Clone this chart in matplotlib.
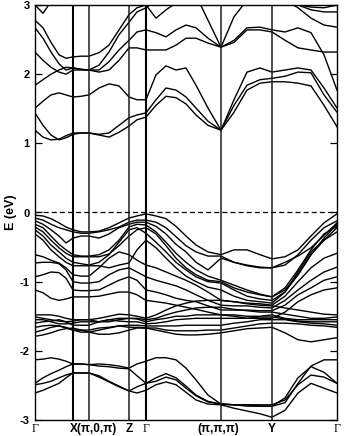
import matplotlib
matplotlib.use('Agg')
import matplotlib.pyplot as plt

plt.rcParams['axes.unicode_minus'] = False

# path distance along the k-path and the high symmetry points
k = [0, 8, 16, 24, 31, 38, 46, 54, 64, 74, 84, 94, 102, 111, 121, 131, 141,
     151, 161, 173, 186, 199, 212, 225, 237, 250, 263, 276, 289, 302]
kpts = [0, 38, 54, 94, 111, 186, 237, 302]

# conduction bands (eV)
cb1 = [1.19, 1.09, 1.05, 1.06, 1.11, 1.15, 1.15, 1.15, 1.12, 1.09, 1.16, 1.25, 1.34, 1.38, 1.55,
       1.68, 1.66, 1.57, 1.41, 1.26, 1.19, 1.45, 1.77, 1.87, 1.89, 1.89, 1.87, 1.83, 1.55, 1.24]
cb2 = [1.44, 1.26, 1.12, 1.05, 1.08, 1.13, 1.15, 1.15, 1.13, 1.15, 1.26, 1.37, 1.41, 1.44, 1.63,
       1.80, 1.77, 1.67, 1.51, 1.32, 1.19, 1.55, 1.84, 1.92, 1.94, 1.97, 2.03, 2.02, 1.70, 1.45]
cb3 = [1.51, 1.61, 1.70, 1.73, 1.70, 1.67, 1.68, 1.70, 1.80, 1.86, 1.83, 1.67, 1.63, 1.63, 1.99,
       2.12, 2.06, 2.09, 1.84, 1.51, 1.19, 1.63, 2.03, 2.09, 2.03, 2.06, 2.09, 2.06, 1.80, 1.51]
cb4 = [1.84, 1.92, 2.00, 2.06, 2.10, 2.09, 2.07, 2.06, 2.03, 2.06, 2.20, 2.38, 2.38, 2.35, 2.35,
       2.35, 2.42, 2.52, 2.52, 2.45, 2.39, 2.49, 2.67, 2.68, 2.64, 2.61, 2.67, 2.60, 2.28, 1.77]
cb5 = [2.32, 2.20, 2.10, 2.03, 2.00, 2.06, 2.06, 2.06, 2.06, 2.18, 2.35, 2.49, 2.61, 2.64, 2.60,
       2.54, 2.64, 2.71, 2.67, 2.52, 2.39, 2.46, 2.64, 2.64, 2.61, 2.49, 2.38, 2.35, 2.32, 2.32]
cb6 = [2.78, 2.67, 2.46, 2.28, 2.23, 2.25, 2.26, 2.26, 2.31, 2.42, 2.64, 2.86, 2.96, 3.00, 2.81,
       2.93, 3.03, 3.07, 3.14, 2.78, 2.39, 2.83, 3.07, 3.14, 3.14, 3.07, 2.96, 2.81, 2.71, 2.68]
cb7 = [2.67, 2.52, 2.32, 2.15, 2.06, 2.09, 2.07, 2.06, 2.13, 2.32, 2.57, 2.75, 2.90, 2.96, 3.07,
       3.19, 3.22, 3.22, 3.22, 3.22, 3.22, 3.22, 3.22, 3.22, 3.14, 3.07, 3.00, 2.93, 2.90, 2.90]
cb8 = [3.00, 2.88, 3.05, 3.10, 3.15, 3.18, 3.18, 3.18, 3.18, 3.15, 3.12, 3.10, 3.08, 3.05, 3.10,
       3.15, 3.20, 3.20, 3.20, 3.20, 3.20, 3.20, 3.20, 3.15, 3.10, 3.05, 3.00, 2.97, 2.96, 3.00]

# upper valence bands
vb1 = [-0.04, -0.05, -0.09, -0.15, -0.21, -0.25, -0.28, -0.28, -0.27, -0.22, -0.15, -0.08, -0.05, -0.02, -0.05,
       -0.09, -0.20, -0.34, -0.47, -0.57, -0.61, -0.54, -0.54, -0.61, -0.67, -0.64, -0.54, -0.34, -0.15, -0.02]
vb2 = [-0.08, -0.11, -0.17, -0.22, -0.25, -0.28, -0.30, -0.30, -0.28, -0.25, -0.21, -0.14, -0.11, -0.11, -0.14,
       -0.22, -0.35, -0.48, -0.57, -0.63, -0.63, -0.72, -0.76, -0.79, -0.80, -0.76, -0.61, -0.40, -0.22, -0.12]
vb3 = [-0.12, -0.17, -0.25, -0.34, -0.44, -0.37, -0.34, -0.34, -0.37, -0.31, -0.22, -0.17, -0.14, -0.14, -0.20,
       -0.31, -0.46, -0.57, -0.72, -0.83, -0.66, -0.72, -0.77, -0.80, -0.80, -0.72, -0.63, -0.51, -0.33, -0.15]
vb4 = [-0.17, -0.22, -0.34, -0.46, -0.54, -0.61, -0.63, -0.63, -0.61, -0.54, -0.40, -0.21, -0.17, -0.18, -0.28,
       -0.43, -0.59, -0.72, -0.83, -0.92, -0.98, -1.05, -1.12, -1.18, -1.22, -1.12, -0.90, -0.61, -0.37, -0.17]
vb5 = [-0.21, -0.28, -0.40, -0.51, -0.59, -0.64, -0.64, -0.64, -0.64, -0.60, -0.48, -0.34, -0.25, -0.22, -0.31,
       -0.48, -0.66, -0.80, -0.90, -0.98, -1.00, -1.09, -1.15, -1.19, -1.22, -1.09, -0.83, -0.54, -0.31, -0.20]
vb6 = [-0.25, -0.34, -0.47, -0.57, -0.66, -0.72, -0.74, -0.76, -0.72, -0.61, -0.43, -0.25, -0.22, -0.30, -0.43,
       -0.57, -0.72, -0.83, -0.93, -1.00, -1.02, -1.12, -1.21, -1.25, -1.27, -1.15, -0.90, -0.61, -0.40, -0.22]
vb7 = [-0.31, -0.40, -0.54, -0.64, -0.72, -0.77, -0.77, -0.77, -0.77, -0.80, -0.76, -0.73, -0.54, -0.40, -0.51,
       -0.66, -0.80, -0.92, -1.00, -1.08, -1.12, -1.21, -1.27, -1.29, -1.31, -1.15, -0.86, -0.57, -0.40, -0.28]
vb8 = [-0.61, -0.64, -0.69, -0.73, -0.80, -0.90, -0.92, -0.92, -0.80, -0.66, -0.57, -0.61, -0.69, -0.76, -0.80,
       -0.86, -0.92, -0.98, -1.05, -1.15, -1.27, -1.29, -1.31, -1.32, -1.34, -1.21, -1.00, -0.80, -0.66, -0.59]
vb9 = [-0.73, -0.72, -0.72, -0.74, -0.83, -1.00, -1.02, -1.02, -1.00, -0.90, -0.83, -0.80, -0.86, -0.93, -0.98,
       -1.02, -1.06, -1.12, -1.19, -1.27, -1.34, -1.35, -1.35, -1.37, -1.38, -1.27, -1.12, -0.98, -0.86, -0.79]
vb10 = [-0.93, -0.90, -0.86, -0.87, -0.95, -1.12, -1.13, -1.13, -1.12, -1.05, -0.98, -0.93, -0.98, -1.12, -1.15,
        -1.19, -1.24, -1.27, -1.29, -1.35, -1.41, -1.41, -1.41, -1.42, -1.42, -1.34, -1.19, -1.09, -0.98, -0.93]
vb11 = [-1.12, -1.16, -1.24, -1.27, -1.25, -1.22, -1.22, -1.22, -1.21, -1.18, -1.15, -1.15, -1.19, -1.27, -1.29,
        -1.31, -1.34, -1.37, -1.40, -1.44, -1.48, -1.50, -1.53, -1.53, -1.53, -1.44, -1.29, -1.19, -1.12, -1.09]

# flat bands around -1.5 eV
fb1 = [-1.48, -1.48, -1.48, -1.50, -1.53, -1.55, -1.55, -1.55, -1.53, -1.50, -1.47, -1.48, -1.50, -1.53, -1.48,
       -1.41, -1.35, -1.31, -1.28, -1.27, -1.27, -1.29, -1.32, -1.34, -1.35, -1.38, -1.41, -1.44, -1.47, -1.48]
fb2 = [-1.51, -1.53, -1.55, -1.57, -1.58, -1.57, -1.55, -1.55, -1.58, -1.58, -1.55, -1.53, -1.53, -1.55, -1.53,
       -1.48, -1.44, -1.41, -1.38, -1.37, -1.37, -1.40, -1.42, -1.44, -1.44, -1.47, -1.50, -1.53, -1.53, -1.51]
fb3 = [-1.55, -1.55, -1.58, -1.61, -1.61, -1.60, -1.58, -1.58, -1.58, -1.55, -1.53, -1.53, -1.54, -1.58, -1.55,
       -1.53, -1.50, -1.50, -1.48, -1.48, -1.48, -1.48, -1.50, -1.50, -1.48, -1.53, -1.55, -1.55, -1.55, -1.55]
fb4 = [-1.60, -1.58, -1.57, -1.55, -1.58, -1.63, -1.63, -1.63, -1.58, -1.55, -1.57, -1.58, -1.58, -1.61, -1.60,
       -1.58, -1.55, -1.54, -1.53, -1.53, -1.53, -1.53, -1.53, -1.51, -1.51, -1.54, -1.57, -1.58, -1.58, -1.58]
fb5 = [-1.66, -1.64, -1.63, -1.64, -1.67, -1.70, -1.70, -1.70, -1.67, -1.66, -1.64, -1.63, -1.63, -1.64, -1.64,
       -1.64, -1.64, -1.63, -1.63, -1.63, -1.63, -1.60, -1.58, -1.55, -1.55, -1.55, -1.58, -1.60, -1.61, -1.63]
fb6 = [-1.73, -1.70, -1.66, -1.64, -1.66, -1.70, -1.73, -1.73, -1.70, -1.67, -1.64, -1.66, -1.66, -1.67, -1.67,
       -1.70, -1.71, -1.71, -1.71, -1.70, -1.70, -1.67, -1.64, -1.61, -1.60, -1.60, -1.61, -1.63, -1.64, -1.66]
fb7 = [-1.79, -1.77, -1.74, -1.70, -1.68, -1.67, -1.70, -1.73, -1.76, -1.76, -1.74, -1.70, -1.67, -1.67, -1.70,
       -1.73, -1.76, -1.77, -1.77, -1.76, -1.74, -1.71, -1.68, -1.67, -1.66, -1.74, -1.84, -1.87, -1.84, -1.81]

# lower valence bands
bb1 = [-2.13, -2.12, -2.10, -2.12, -2.15, -2.19, -2.19, -2.20, -2.19, -2.20, -2.22, -2.25, -2.19, -2.15, -2.10,
       -2.10, -2.13, -2.25, -2.42, -2.64, -2.77, -2.78, -2.80, -2.80, -2.80, -2.75, -2.47, -2.22, -2.13, -2.13]
bb2 = [-2.47, -2.39, -2.33, -2.28, -2.23, -2.19, -2.19, -2.20, -2.22, -2.23, -2.25, -2.26, -2.36, -2.47, -2.44,
       -2.38, -2.42, -2.54, -2.65, -2.74, -2.77, -2.78, -2.78, -2.80, -2.80, -2.68, -2.39, -2.23, -2.31, -2.47]
bb3 = [-2.49, -2.47, -2.44, -2.39, -2.35, -2.32, -2.32, -2.32, -2.36, -2.44, -2.51, -2.58, -2.52, -2.47, -2.39,
       -2.33, -2.39, -2.51, -2.64, -2.73, -2.77, -2.78, -2.78, -2.78, -2.78, -2.71, -2.49, -2.35, -2.38, -2.47]
bb4 = [-2.61, -2.57, -2.52, -2.47, -2.39, -2.32, -2.32, -2.32, -2.38, -2.45, -2.52, -2.58, -2.61, -2.57, -2.49,
       -2.45, -2.49, -2.60, -2.71, -2.77, -2.78, -2.83, -2.87, -2.91, -2.96, -2.86, -2.61, -2.47, -2.54, -2.61]

bands = [cb1, cb2, cb3, cb4, cb5, cb6, cb7, cb8,
         vb1, vb2, vb3, vb4, vb5, vb6, vb7, vb8, vb9, vb10, vb11,
         fb1, fb2, fb3, fb4, fb5, fb6, fb7,
         bb1, bb2, bb3, bb4]

fig = plt.figure(figsize=(3.54, 4.36), dpi=100)
ax = fig.add_axes([35/354, 16/436, 302/354, 415/436])

for b in bands:
    ax.plot(k, b, color='k', lw=1.0, solid_joinstyle='round')

# X and Gamma drawn heavier, the rest a bit lighter as in the original
for kp in kpts[1:-1]:
    if kp in (38, 111):
        ax.axvline(kp, color='k', lw=1.5)
    else:
        ax.axvline(kp, color='0.12', lw=1.1)
ax.axhline(0, color='k', lw=0.9, ls=(0, (4, 2.5)))

ax.set_xlim(kpts[0], kpts[-1])
ax.set_ylim(-3, 3)
ax.set_yticks(range(-3, 4))
ax.set_yticklabels([str(v) for v in range(-3, 4)], fontweight='bold', fontsize=8,
                   family='Liberation Sans')
ax.set_xticks([])
ax.tick_params(axis='y', direction='in', length=5, width=0.9, right=True, pad=4)
for s in ax.spines.values():
    s.set_linewidth(1.0)

ax.set_ylabel('E (eV)', fontweight='bold', fontsize=9, family='Liberation Sans', labelpad=2)

tr = ax.get_xaxis_transform()
ly = -0.022
ax.text(kpts[0], ly, 'Γ', transform=tr, ha='center', va='center', fontsize=8.5, family='Liberation Serif')
ax.text(35, ly, 'X(π,0,π)', transform=tr, ha='left', va='center', fontsize=8.5,
        fontweight='bold', family='Liberation Sans')
ax.text(kpts[3], ly, 'Z', transform=tr, ha='center', va='center', fontsize=8.5,
        fontweight='bold', family='Liberation Sans')
ax.text(kpts[4], ly, 'Γ', transform=tr, ha='center', va='center', fontsize=8.5, family='Liberation Serif')
ax.text(kpts[5] - 3, ly, '(π,π,π)', transform=tr, ha='center', va='center', fontsize=8.5,
        fontweight='bold', family='Liberation Sans')
ax.text(kpts[6], ly, 'Y', transform=tr, ha='center', va='center', fontsize=8.5,
        fontweight='bold', family='Liberation Sans')
ax.text(kpts[7], ly, 'Γ', transform=tr, ha='center', va='center', fontsize=8.5, family='Liberation Serif')

fig.savefig('out.png', dpi=100)
